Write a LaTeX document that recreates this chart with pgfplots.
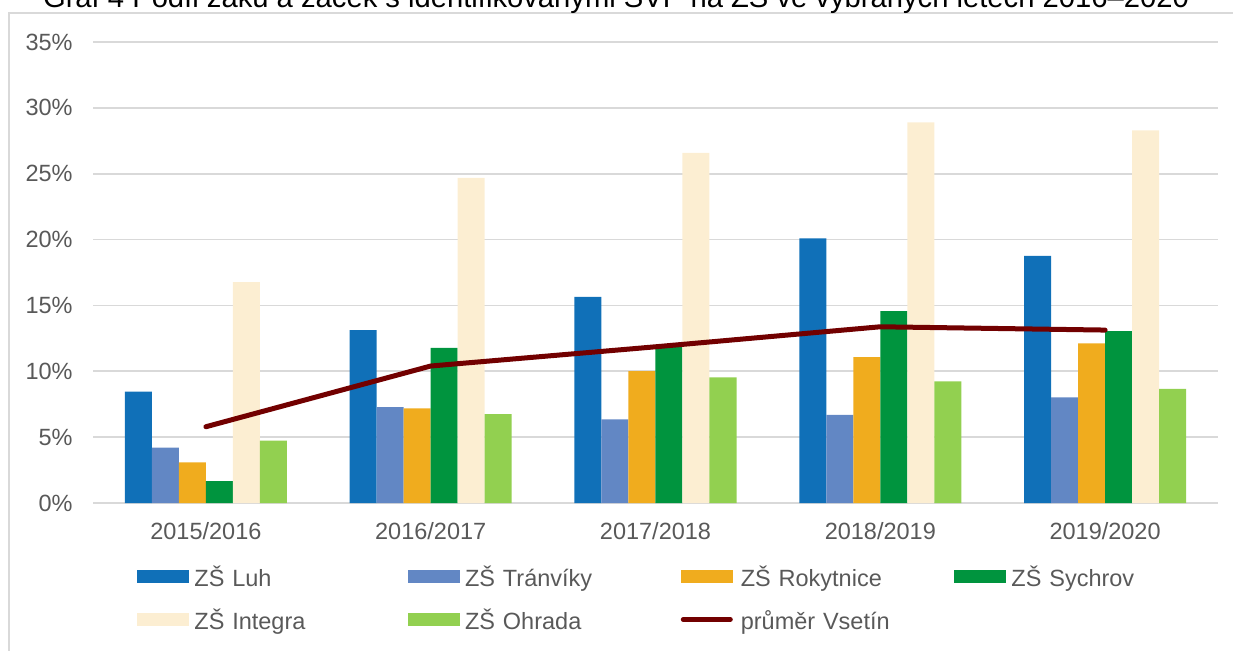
\documentclass[border=0pt]{standalone}
\usepackage{pgfplots}
\pgfplotsset{compat=1.18}
\usepackage{fontspec}
\setmainfont{Liberation Sans}
\definecolor{cLuh}{HTML}{1070B8}
\definecolor{cTra}{HTML}{6287C4}
\definecolor{cRok}{HTML}{F0AC1E}
\definecolor{cSyc}{HTML}{00943E}
\definecolor{cInt}{HTML}{FCEED2}
\definecolor{cOhr}{HTML}{92D050}
\definecolor{cAvg}{HTML}{720000}
\definecolor{gridc}{HTML}{D9D9D9}
\definecolor{lbl}{HTML}{595959}
\pgfplotsset{
  barimg/.style={legend image code/.code={\fill[##1] (0pt,1.85pt) rectangle (26pt,8.55pt);}},
  mybar/.style={ybar, bar width=13.5pt, bar shift=#1, draw=none, barimg},
  lineimg/.style={legend image code/.code={\draw[##1] (1.25pt,5.2pt) -- (24.75pt,5.2pt); \path (0pt,5.2pt) (26pt,5.2pt);}},
}
\begin{document}
\begin{tikzpicture}
\draw[gridc, line width=1pt] (-42.25pt,-120pt) -- (-42.25pt,245pt) -- (620pt,245pt);
\begin{axis}[
  at={(0,0)}, anchor=south west,
  scale only axis, width=562pt, height=230.5pt,
  xmin=-0.5, xmax=4.5, ymin=0, ymax=35,
  xtick={0,1,2,3,4},
  xticklabels={2015/2016,2016/2017,2017/2018,2018/2019,2019/2020},
  ytick={0,5,...,35},
  yticklabel={\pgfmathprintnumber{\tick}\%},
  /pgf/number format/assume math mode=true,
  ymajorgrids, grid style={draw=gridc, line width=0.9pt},
  axis line style={draw=none},
  major tick length=0pt,
  tick style={draw=none},
  ticklabel style={font=\fontsize{11.75pt}{14pt}\selectfont, text=lbl},
  yticklabel style={anchor=east, inner sep=0pt, xshift=-10.25pt},
  xticklabel style={anchor=base, inner sep=0pt, yshift=-18.2pt},
  legend columns=4,
  legend style={draw=none, fill=none, inner sep=0pt,
    at={(axis description cs:0.03826,-0.14382)}, anchor=north west,
    row sep=10.45pt, column sep=0pt, cells={anchor=base west},
    nodes={inner sep=0pt, inner xsep=2.75pt, text height=8.5pt, text depth=2.5pt,
      text width=103.85pt, font=\fontsize{11.75pt}{14pt}\selectfont, text=lbl}},
]
\addplot[mybar=-33.75pt, fill=cLuh] coordinates {(0,8.45) (1,13.13) (2,15.65) (3,20.1) (4,18.77)};
\addlegendentry{ZŠ Luh}
\addplot[mybar=-20.25pt, fill=cTra] coordinates {(0,4.2) (1,7.28) (2,6.35) (3,6.7) (4,8.02)};
\addlegendentry{ZŠ Tránvíky}
\addplot[mybar=-6.75pt, fill=cRok] coordinates {(0,3.09) (1,7.18) (2,10.02) (3,11.08) (4,12.12)};
\addlegendentry{ZŠ Rokytnice}
\addplot[mybar=6.75pt, fill=cSyc] coordinates {(0,1.67) (1,11.78) (2,11.85) (3,14.57) (4,13.05)};
\addlegendentry{ZŠ Sychrov}
\addplot[mybar=20.25pt, fill=cInt] coordinates {(0,16.77) (1,24.68) (2,26.58) (3,28.9) (4,28.3)};
\addlegendentry{ZŠ Integra}
\addplot[mybar=33.75pt, fill=cOhr] coordinates {(0,4.73) (1,6.75) (2,9.54) (3,9.23) (4,8.67)};
\addlegendentry{ZŠ Ohrada}
\addplot[color=cAvg, line width=2.5pt, line cap=round, line join=round, lineimg] coordinates {(0,5.79) (1,10.4) (2,11.86) (3,13.38) (4,13.13)};
\addlegendentry{průměr Vsetín}
\end{axis}
\node[anchor=base, font=\fontsize{14.6pt}{17pt}\selectfont, inner sep=0pt] at (261.25pt,247.5pt) {Graf 4 Podíl žáků a žáček s identifikovanými SVP na ZŠ ve vybraných letech 2016–2020};
\pgfresetboundingbox
\useasboundingbox (-46.75pt,-73.5pt) rectangle (569.75pt,251.5pt);
\end{tikzpicture}
\end{document}
